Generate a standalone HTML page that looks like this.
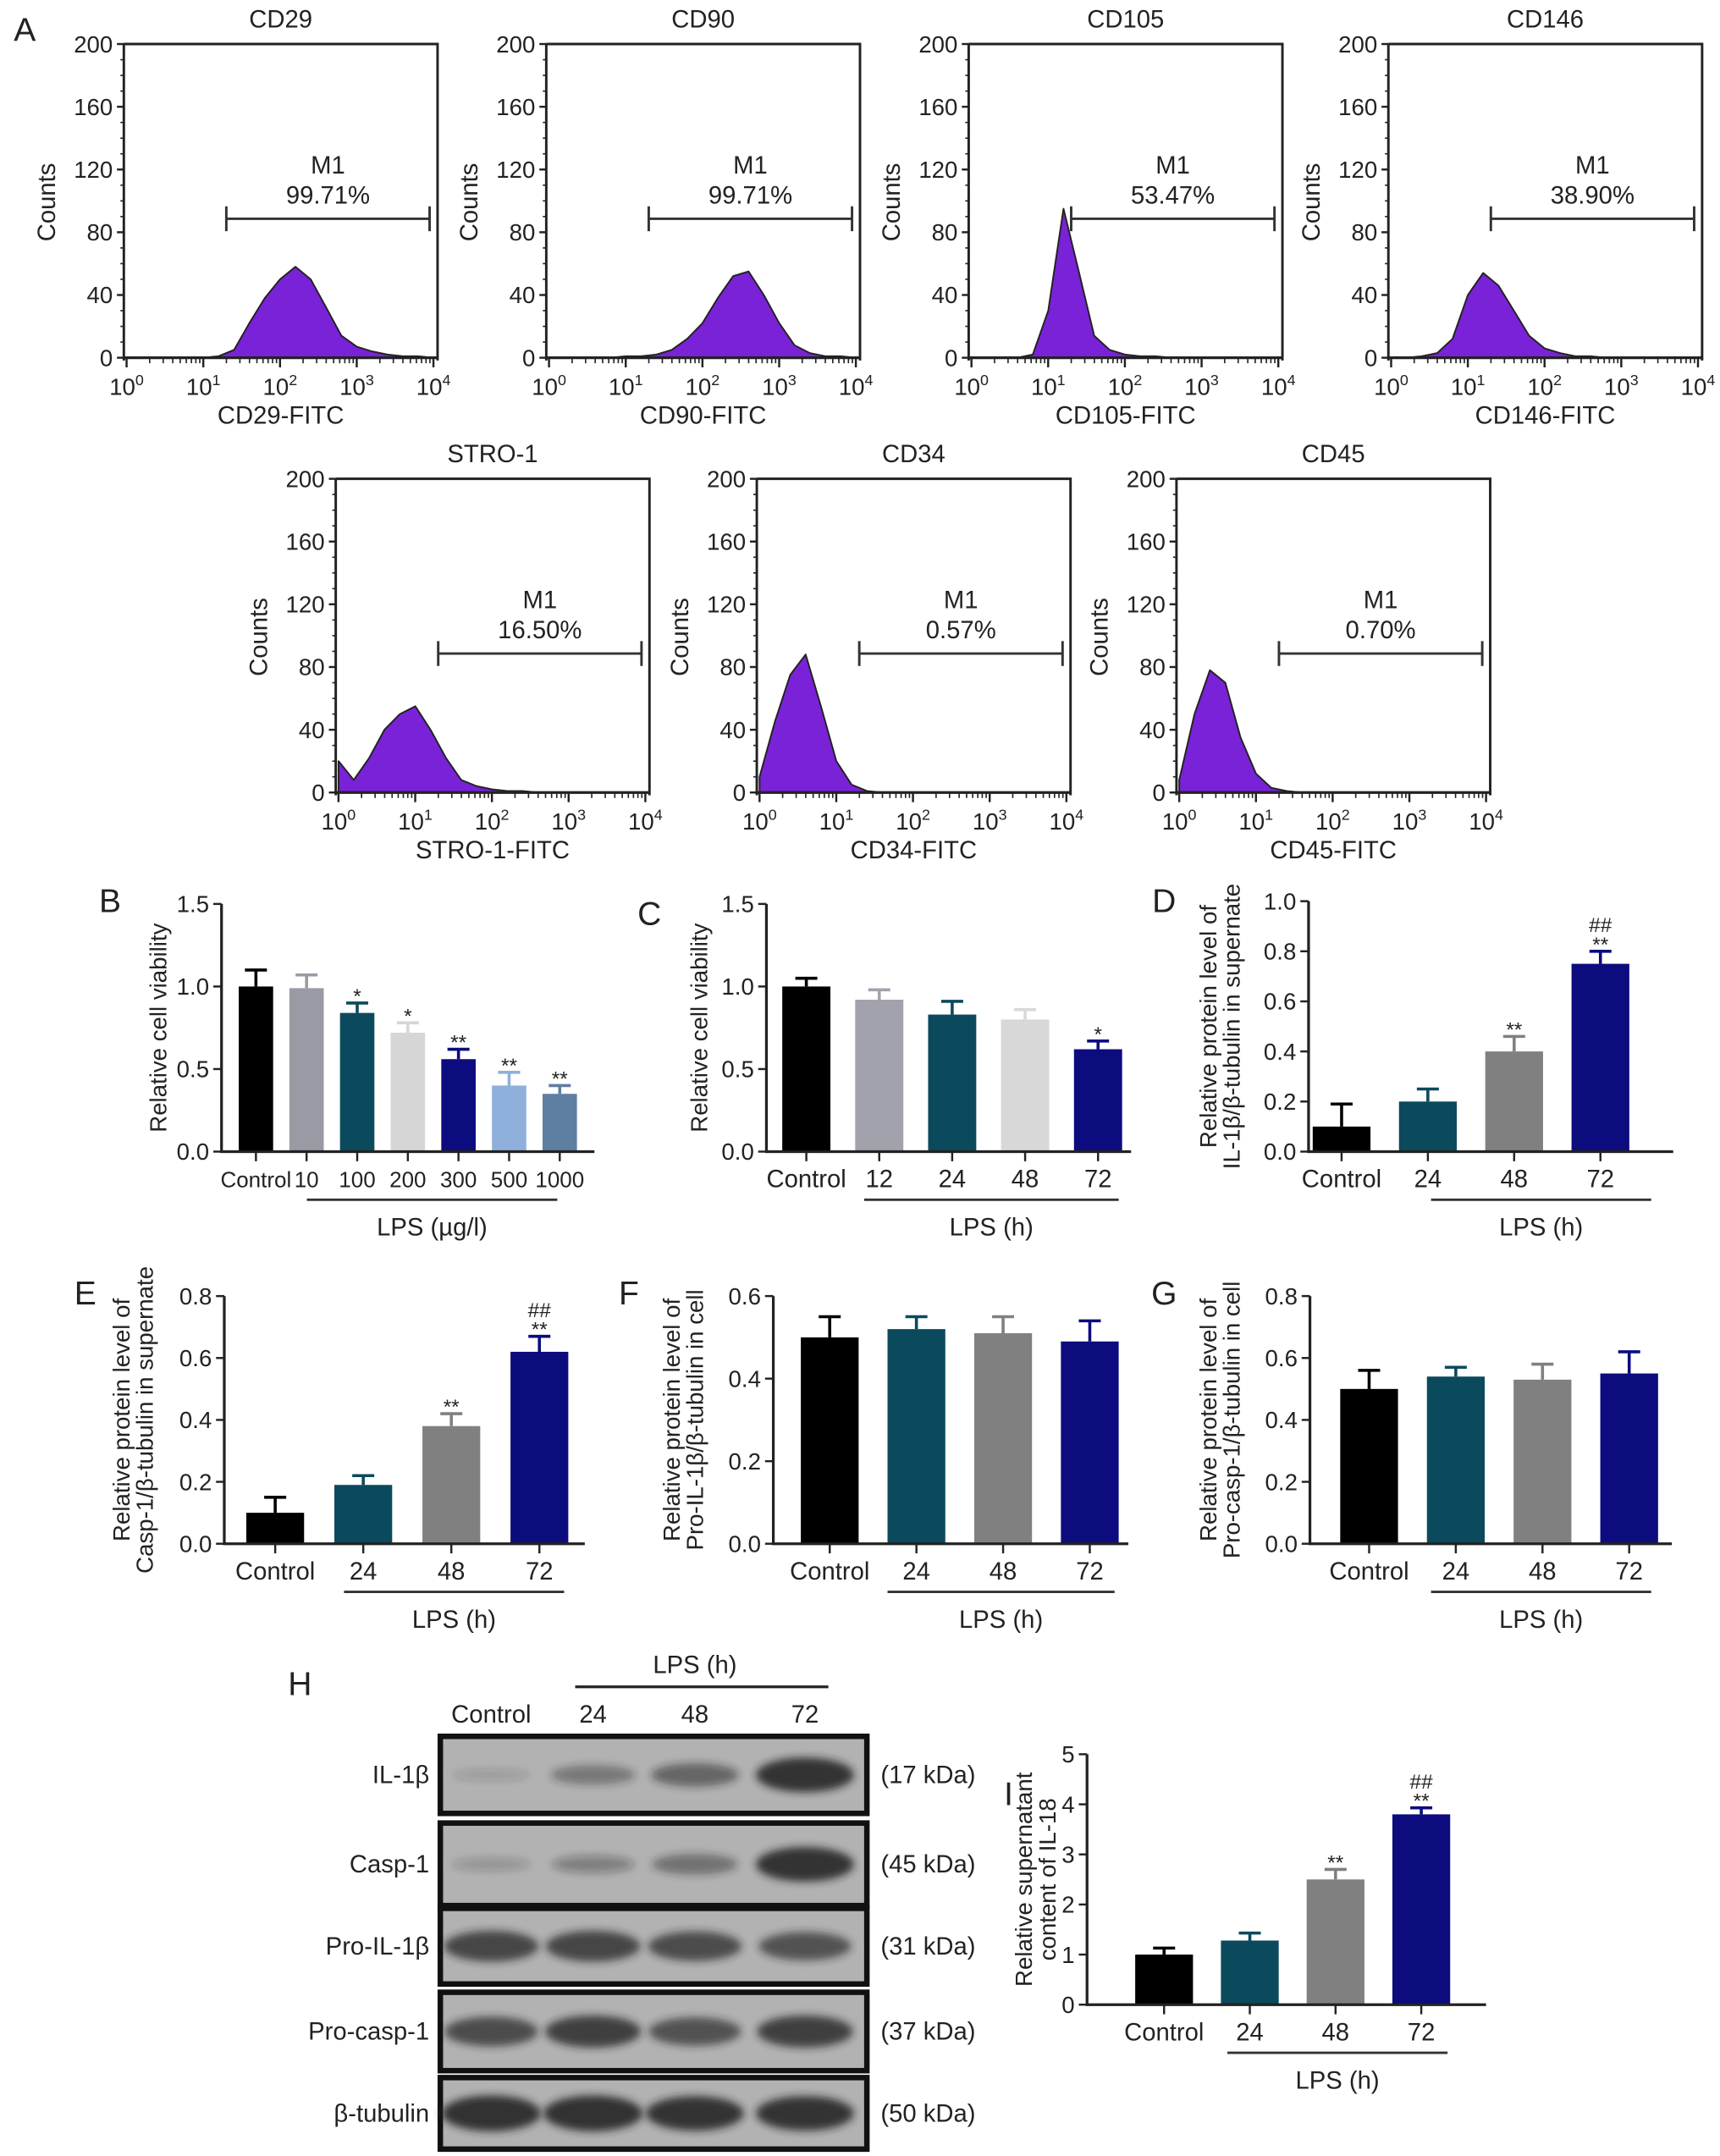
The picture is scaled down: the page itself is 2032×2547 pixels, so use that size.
<!DOCTYPE html>
<html><head><meta charset="utf-8"><style>
html,body{margin:0;padding:0;background:#fff;}
svg{display:block;font-family:"Liberation Sans",sans-serif;}
</style></head><body>
<svg id="fig" width="2032" height="2547" viewBox="0 0 1250 1567" preserveAspectRatio="none" xmlns="http://www.w3.org/2000/svg">
<defs><filter id="blur" x="-20%" y="-50%" width="140%" height="200%"><feGaussianBlur stdDeviation="3"/></filter></defs>
</svg>
<script>
// ---------- Panel A data (flow histograms) ----------
const flowNames = ["CD29","CD90","CD105","CD146","STRO-1","CD34","CD45"];
const flowPct = ["99.71%","99.71%","53.47%","38.90%","16.50%","0.57%","0.70%"];
const flowGateStart = [1.3,1.3,1.3,1.3,1.3,1.3,1.3];
const flowGateEnd = [3.95,3.95,3.95,3.95,3.95,3.95,3.95];
const cntCD29 = [0,0,0,0,0,0,1,5,22,38,50,58,50,32,14,7,4,2,1,1,0];
const cntCD90 = [0,0,0,0,0,1,1,2,5,12,22,38,52,55,40,22,8,3,1,1,0];
const cntCD105 = [0,0,0,0,2,30,95,55,14,5,2,1,1,0,0,0,0,0,0,0,0];
const cntCD146 = [0,0,1,3,12,40,54,46,30,14,6,3,1,1,0,0,0,0,0,0,0];
const cntSTRO = [20,8,22,40,50,55,40,22,8,4,2,1,1,0,0,0,0,0,0,0,0];
const cntCD34 = [10,45,75,88,55,20,5,1,0,0,0,0,0,0,0,0,0,0,0,0,0];
const cntCD45 = [8,50,78,70,35,12,3,1,0,0,0,0,0,0,0,0,0,0,0,0,0];
const countTicks = [0,40,80,120,160,200];
// ---------- Panel B ----------
const bCats = ["Control","10","100","200","300","500","1000"];
const bVals = [1.0,0.99,0.84,0.72,0.56,0.40,0.35];
const bErr = [0.10,0.08,0.06,0.06,0.06,0.08,0.05];
const bSig = ["","","*","*","**","**","**"];
const bTicks = ["0.0","0.5","1.0","1.5"];
// ---------- Panel C ----------
const cCats = ["Control","12","24","48","72"];
const cVals = [1.0,0.92,0.83,0.80,0.62];
const cErr = [0.05,0.06,0.08,0.06,0.05];
const cSig = ["","","","","*"];
// ---------- Panel D ----------
const hCats = ["Control","24","48","72"];
const dVals = [0.10,0.20,0.40,0.75];
const dErr = [0.09,0.05,0.06,0.05];
const dSig = ["","","**","**"];
const dSig2 = ["","","","##"];
const dTicks = ["0.0","0.2","0.4","0.6","0.8","1.0"];
// ---------- Panel E ----------
const eVals = [0.10,0.19,0.38,0.62];
const eErr = [0.05,0.03,0.04,0.05];
const eSig = ["","","**","**"];
const eSig2 = ["","","","##"];
const eTicks = ["0.0","0.2","0.4","0.6","0.8"];
// ---------- Panel F ----------
const fVals = [0.50,0.52,0.51,0.49];
const fErr = [0.05,0.03,0.04,0.05];
const fTicks = ["0.0","0.2","0.4","0.6"];
// ---------- Panel G ----------
const gVals = [0.50,0.54,0.53,0.55];
const gErr = [0.06,0.03,0.05,0.07];
// ---------- Panel H (blot band intensities 0..1) ----------
const blotRows = ["IL-1β","Casp-1","Pro-IL-1β","Pro-casp-1","β-tubulin"];
const blotKda = ["(17 kDa)","(45 kDa)","(31 kDa)","(37 kDa)","(50 kDa)"];
const blotIL1b = [0.02,0.35,0.5,0.95];
const blotCasp1 = [0.08,0.25,0.4,0.95];
const blotProIL = [0.8,0.8,0.75,0.7];
const blotProCasp = [0.75,0.85,0.7,0.85];
const blotTub = [1.0,1.0,0.95,0.95];
// ---------- Panel I ----------
const iVals = [1.0,1.28,2.5,3.8];
const iErr = [0.13,0.15,0.2,0.13];
const iSig = ["","","**","**"];
const iSig2 = ["","","","##"];
const iTicks = ["0","1","2","3","4","5"];

const NS="http://www.w3.org/2000/svg";
const svg=document.getElementById('fig');
function el(tag,attrs,parent){const e=document.createElementNS(NS,tag);for(const k in attrs)e.setAttribute(k,attrs[k]);(parent||svg).appendChild(e);return e;}
function txt(x,y,s,size,anchor,parent){const t=el('text',{x:x,y:y,'font-size':size,'text-anchor':anchor||'middle',fill:'#222'},parent);t.textContent=s;return t;}

const letters=[["A",18,30],["B",80,663],["C",472,672],["D",846,663],["E",62,948],["F",457,948],["G",846,948],["H",218,1232],["I",733,1312]];
letters.forEach(l=>{const t=txt(l[1],l[2],l[0],24,'middle');

});

// ---------- flow ----------
const flowCounts=[cntCD29,cntCD90,cntCD105,cntCD146,cntSTRO,cntCD34,cntCD45];
const flowPos=[[90,32],[397,32],[704,32],[1009,32],[244,348],[550,348],[855,348]];
function drawFlow(i){
  const L=flowPos[i][0],T=flowPos[i][1],W=228;
  const g=el('g',{});
  
  
  const x0=L+2,x1=L+W-3,y0=T+228,yTop=T;
  const xs=v=>x0+(x1-x0)*v/4;
  const ys=v=>y0-(y0-yTop)*v/200;
  const c=flowCounts[i];let d='M'+xs(0)+','+y0;
  c.forEach((v,k)=>{d+=' L'+xs(k*0.2).toFixed(1)+','+ys(v).toFixed(1);});
  d+=' L'+xs(4)+','+y0+' Z';
  const p=el('path',{d:d,fill:'#7a22d8',stroke:'#222','stroke-width':1.2,'stroke-linejoin':'round'},g);
  
  
  const b=el('path',{d:`M${L},${T} H${L+W} V${T+230} M${L},${T} V${T+230}`,fill:'none',stroke:'#222','stroke-width':1.8},g);
  
  
  const bl=el('line',{x1:L,y1:y0,x2:L+W,y2:y0,stroke:'#222','stroke-width':2},g);
  
  
  countTicks.forEach(v=>{const y=ys(v);
    const tk=el('line',{x1:L-5,y1:y,x2:L,y2:y,stroke:'#222','stroke-width':1.5},g);
    
    
    const t=txt(L-8,y+6,String(v),17,'end',g);
    
    });
  for(let v=10;v<200;v+=10){const tk=el('line',{x1:L-2.5,y1:ys(v),x2:L,y2:ys(v),stroke:'#222','stroke-width':1},g);
    
    }
  for(let dcd=0;dcd<=4;dcd++){const x=xs(dcd);
    const tk=el('line',{x1:x,y1:y0,x2:x,y2:y0+7,stroke:'#222','stroke-width':1.5},g);
    
    
    const t=txt(x,y0+27,'10',17,'middle',g);
    
    
    const s=el('tspan',{dy:-7,'font-size':11},t);s.textContent=String(dcd);
    if(dcd<4){for(let m=2;m<10;m++){const xm=xs(dcd+Math.log10(m));
      const mk=el('line',{x1:xm,y1:y0,x2:xm,y2:y0+4,stroke:'#222','stroke-width':1},g);
      
      }}
  }
  const tl=txt(L+W/2,T-12,flowNames[i],18,'middle',g);
  
  
  const xl=txt(L+W/2,T+276,flowNames[i]+'-FITC',18,'middle',g);
  
  
  const yl=txt(0,0,'Counts',18,'middle',g);yl.setAttribute('transform',`translate(${L-50},${T+115}) rotate(-90)`);
  
  
  const ga=xs(flowGateStart[i]),gb=xs(flowGateEnd[i]),gy=T+127;
  const gm=el('path',{d:`M${ga},${gy-9} V${gy+9} M${ga},${gy} H${gb} M${gb},${gy-9} V${gy+9}`,stroke:'#333','stroke-width':1.8,fill:'none'},g);
  
  
  const m1=txt((ga+gb)/2,T+94,'M1',18,'middle',g);
  
  
  const pc=txt((ga+gb)/2,T+116,flowPct[i],18,'middle',g);
  
  
}
for(let i=0;i<7;i++)drawFlow(i);

// ---------- bar charts ----------
function drawBars(o){
  const g=el('g',{});
  
  
  const ys=v=>o.y0-(o.y0-o.yTop)*v/o.max;
  const xs=k=>o.xFirst+k*o.step;
  o.vals.forEach((v,k)=>{const x=xs(k),y=ys(v);
    const eb=el('path',{d:`M${x},${y} V${ys(v+o.err[k])} M${x-8},${ys(v+o.err[k])} H${x+8}`,stroke:o.colors[k],'stroke-width':2.2,fill:'none'},g);
    
    
    const r=el('rect',{x:x-o.bw/2,y:y,width:o.bw,height:o.y0-y,fill:o.colors[k]},g);
    
    
    let sy=ys(v+o.err[k])-4;
    if(o.sig&&o.sig[k]){const s=txt(x,sy+4,o.sig[k],15,'middle',g);
      
      sy-=12;}
    if(o.sig2&&o.sig2[k]){const s=txt(x,sy+2,o.sig2[k],15,'middle',g);
      
      }
    const tk=el('line',{x1:x,y1:o.y0,x2:x,y2:o.y0+7,stroke:'#222','stroke-width':1.5},g);
    
    
    const tl=txt(x,o.y0+26,o.cats[k],o.catSize||18,'middle',g);
    
    
  });
  const ax=el('path',{d:`M${o.ax},${o.yTop} V${o.y0} H${o.axR}`,stroke:'#222','stroke-width':2,fill:'none'},g);
  
  
  o.ticks.forEach(t=>{const y=ys(parseFloat(t));
    const tk=el('line',{x1:o.ax-6,y1:y,x2:o.ax,y2:y,stroke:'#222','stroke-width':1.5},g);
    
    
    const tl=txt(o.ax-9,y+6,t,17,'end',g);
    
    });
  const ln=el('line',{x1:o.lpsA,y1:o.y0+35,x2:o.lpsB,y2:o.y0+35,stroke:'#333','stroke-width':1.8},g);
  
  
  const lt=txt((o.lpsA+o.lpsB)/2,o.y0+61,o.lps,18,'middle',g);
  
  
  o.ylab.forEach((s,k)=>{const t=txt(0,0,s,17,'middle',g);
    t.setAttribute('transform',`translate(${o.ylx+k*17},${(o.yTop+o.y0)/2}) rotate(-90)`);
    
    });
}
const teal='#0b4a5c',navy='#0c0c7e',gray='#808080';
drawBars({name:'chart-b-viability-dose',cats:bCats,vals:bVals,err:bErr,sig:bSig,max:1.5,ticks:bTicks,y0:837,yTop:657,ax:161,axR:432,xFirst:186,step:36.8,bw:25,catSize:16,
 colors:['#000','#9a9aa4',teal,'#d6d6d6',navy,'#8eb0da','#5f7fa2'],lpsA:223,lpsB:405,lps:'LPS (µg/l)',ylab:['Relative cell viability'],ylx:121});
drawBars({name:'chart-c-viability-time',cats:cCats,vals:cVals,err:cErr,sig:cSig,max:1.5,ticks:bTicks,y0:837,yTop:657,ax:557,axR:822,xFirst:586,step:53,bw:35,
 colors:['#000','#a2a2ac',teal,'#d8d8d8',navy],lpsA:628,lpsB:813,lps:'LPS (h)',ylab:['Relative cell viability'],ylx:514});
drawBars({name:'chart-d-il1b-supernate',cats:hCats,vals:dVals,err:dErr,sig:dSig,sig2:dSig2,max:1.0,ticks:dTicks,y0:837,yTop:655,ax:951,axR:1216,xFirst:975,step:62.7,bw:42,
 colors:['#000',teal,gray,navy],lpsA:1040,lpsB:1200,lps:'LPS (h)',ylab:['Relative protein level of','IL-1β/β-tubulin in supernate'],ylx:884});
drawBars({name:'chart-e-casp1-supernate',cats:hCats,vals:eVals,err:eErr,sig:eSig,sig2:eSig2,max:0.8,ticks:eTicks,y0:1122,yTop:942,ax:163,axR:425,xFirst:200,step:64,bw:42,
 colors:['#000',teal,gray,navy],lpsA:250,lpsB:410,lps:'LPS (h)',ylab:['Relative protein level of','Casp-1/β-tubulin in supernate'],ylx:94});
drawBars({name:'chart-f-pro-il1b-cell',cats:hCats,vals:fVals,err:fErr,max:0.6,ticks:fTicks,y0:1122,yTop:942,ax:562,axR:820,xFirst:603,step:63,bw:42,
 colors:['#000',teal,gray,navy],lpsA:645,lpsB:810,lps:'LPS (h)',ylab:['Relative protein level of','Pro-IL-1β/β-tubulin in cell'],ylx:494});
drawBars({name:'chart-g-pro-casp1-cell',cats:hCats,vals:gVals,err:gErr,max:0.8,ticks:eTicks,y0:1122,yTop:942,ax:952,axR:1215,xFirst:995,step:63,bw:42,
 colors:['#000',teal,gray,navy],lpsA:1040,lpsB:1200,lps:'LPS (h)',ylab:['Relative protein level of','Pro-casp-1/β-tubulin in cell'],ylx:884});
drawBars({name:'chart-i-il18-supernatant',cats:hCats,vals:iVals,err:iErr,sig:iSig,sig2:iSig2,max:5,ticks:iTicks,y0:1457,yTop:1275,ax:790,axR:1080,xFirst:846,step:62.3,bw:42,
 colors:['#000',teal,gray,navy],lpsA:892,lpsB:1052,lps:'LPS (h)',ylab:['Relative supernatant','content of IL-18'],ylx:750});

// ---------- western blot ----------
const blotData=[blotIL1b,blotCasp1,blotProIL,blotProCasp,blotTub];
const blotY=[[1262,1318],[1325,1385],[1387,1442],[1448,1505],[1510,1562]];
const laneX=[357,431,505,585];
const wb=el('g',{});


["Control","24","48","72"].forEach((s,k)=>{const t=txt(laneX[k],1252,s,18,'middle',wb);
  
  });
const hl=el('line',{x1:418,y1:1226,x2:602,y2:1226,stroke:'#222','stroke-width':2},wb);


const ht=txt(505,1216,'LPS (h)',18,'middle',wb);


blotData.forEach((row,r)=>{const y0=blotY[r][0],y1=blotY[r][1],cy=(y0+y1)/2;
  const box=el('rect',{x:320,y:y0,width:310,height:y1-y0,fill:'#b2b2b2',stroke:'#111','stroke-width':4},wb);
  
  
  row.forEach((v,k)=>{const e=el('ellipse',{cx:laneX[k],cy:cy,rx:28+8*v,ry:4+9*v,fill:'#222','fill-opacity':0.15+0.75*v,filter:'url(#blur)'},wb);
    
    });
  const l=txt(312,cy+6,blotRows[r],18,'end',wb);
  
  
  const kd=txt(640,cy+6,blotKda[r],18,'start',wb);
  
  
});
</script>
</body></html>
